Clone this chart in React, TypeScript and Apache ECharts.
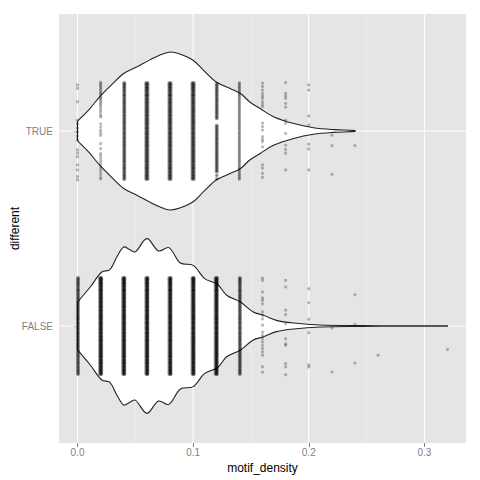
import React, { useEffect, useRef } from 'react';
import * as echarts from 'echarts';

// Category positions on the y scale: FALSE = 1, TRUE = 2
const Y_CATEGORIES = ['FALSE', 'TRUE'];
const X_TICKS = [0, 0.1, 0.2, 0.3];
const X_MINOR = [0.05, 0.15, 0.25];

// Violin outlines: x values and half widths (in y units)
const TRUE_VX = [0, 0.010, 0.019, 0.030, 0.040, 0.051, 0.063, 0.071, 0.080, 0.089, 0.100, 0.109, 0.120, 0.132, 0.141, 0.149, 0.158, 0.170, 0.187, 0.204, 0.222, 0.240];
const TRUE_VW = [0.051, 0.11, 0.174, 0.24, 0.295, 0.328, 0.366, 0.388, 0.405, 0.394, 0.363, 0.311, 0.251, 0.218, 0.192, 0.149, 0.115, 0.072, 0.038, 0.017, 0.007, 0.002];
const FALSE_VX = [0, 0.011, 0.021, 0.028, 0.034, 0.040, 0.045, 0.050, 0.060, 0.070, 0.079, 0.089, 0.100, 0.110, 0.121, 0.129, 0.141, 0.152, 0.161, 0.172, 0.187, 0.210, 0.245, 0.28, 0.32];
const FALSE_VW = [0.123, 0.200, 0.277, 0.289, 0.354, 0.405, 0.392, 0.380, 0.448, 0.385, 0.402, 0.323, 0.311, 0.243, 0.214, 0.158, 0.123, 0.072, 0.055, 0.029, 0.015, 0.005, 0.002, 0.001, 0.0005];

// Jittered point offsets (y units around the category)
const DENSE = [0.248, 0.241, 0.236, 0.229, 0.222, 0.217, 0.209, 0.203, 0.196, 0.188, 0.183, 0.176, 0.168, 0.161, 0.155, 0.147, 0.141, 0.133, 0.126, 0.119, 0.112, 0.104, 0.098, 0.091, 0.083, 0.077, 0.069, 0.062, 0.055, 0.048, 0.041, 0.034, 0.027, 0.019, 0.013, 0.006, -0.002, -0.009, -0.016, -0.023, -0.031, -0.037, -0.044, -0.052, -0.058, -0.066, -0.073, -0.079, -0.087, -0.094, -0.101, -0.108, -0.115, -0.122, -0.129, -0.137, -0.143, -0.151, -0.157, -0.164, -0.172, -0.178, -0.186, -0.192, -0.199, -0.207, -0.213, -0.221, -0.227, -0.234, -0.242, -0.248];
const DENSE_GAP = [0.243, 0.236, 0.229, 0.221, 0.214, 0.207, 0.199, 0.192, 0.184, 0.177, 0.169, 0.162, 0.154, 0.147, 0.139, 0.131, 0.124, 0.116, 0.109, 0.101, 0.094, 0.086, 0.078, 0.071, 0.063, 0.029, 0.022, 0.014, 0.007, -0.001, -0.008, -0.016, -0.023, -0.031, -0.038, -0.046, -0.053, -0.061, -0.068, -0.076, -0.083, -0.091, -0.098, -0.106, -0.113, -0.121, -0.128, -0.136, -0.143, -0.151, -0.158, -0.166, -0.173, -0.181, -0.188, -0.196, -0.203, -0.210, -0.227, -0.245];
const T00 = [0.236, 0.219, 0.150, 0.056, 0.036, 0.015, -0.005, -0.026, -0.046, -0.097, -0.113, -0.132, -0.174, -0.200, -0.234, -0.251];
const T02 = [0.250, 0.243, 0.236, 0.229, 0.221, 0.214, 0.205, 0.197, 0.190, 0.181, 0.173, 0.166, 0.157, 0.148, 0.139, 0.130, 0.118, 0.106, 0.094, 0.080, 0.072, 0.036, 0.020, 0.003, -0.010, -0.022, -0.065, -0.090, -0.116, -0.128, -0.142, -0.156, -0.170, -0.183, -0.196, -0.209, -0.222, -0.236, -0.246];
const T16 = [0.245, 0.227, 0.210, 0.193, 0.180, 0.168, 0.150, 0.137, 0.125, 0.040, 0.022, 0.005, -0.029, -0.043, -0.055, -0.081, -0.174, -0.191, -0.217, -0.238];
const T18 = [0.248, 0.193, 0.180, 0.168, 0.142, 0.122, 0.056, 0.040, -0.012, -0.072, -0.094, -0.114, -0.200];
const T20 = [0.236, 0.210, 0.077, 0.031, -0.067, -0.092, -0.200];
const T22 = [-0.021, -0.075, -0.222];
const T24 = [-0.075];
const F16 = [0.246, 0.234, 0.174, 0.144, 0.132, 0.114, 0.072, 0.055, 0.037, 0.004, -0.031, -0.048, -0.065, -0.082, -0.099, -0.116, -0.133, -0.150, -0.210, -0.236];
const F18 = [0.234, 0.200, 0.081, 0.058, 0.012, -0.065, -0.091, -0.099, -0.193, -0.210, -0.250];
const F20 = [0.191, 0.120, 0.034, -0.034, -0.199, -0.210];
const F22 = [-0.010, -0.236];
const F24 = [0.161, 0.007, -0.190];
const F26 = [-0.150];
const F32 = [-0.120];

const TRUE_COL_X = [0, 0.02, 0.04, 0.06, 0.08, 0.10, 0.12, 0.14, 0.16, 0.18, 0.20, 0.22, 0.24];
const TRUE_COL_OFFSETS = [T00, T02, DENSE, DENSE, DENSE, DENSE, DENSE_GAP, DENSE, T16, T18, T20, T22, T24];
const TRUE_COL_REPS = [1, 1, 2, 3, 3, 3, 2, 1, 1, 1, 1, 1, 1];
const FALSE_COL_X = [0, 0.02, 0.04, 0.06, 0.08, 0.10, 0.12, 0.14, 0.16, 0.18, 0.20, 0.22, 0.24, 0.26, 0.32];
const FALSE_COL_OFFSETS = [DENSE, DENSE, DENSE, DENSE, DENSE, DENSE, DENSE, DENSE, F16, F18, F20, F22, F24, F26, F32];
const FALSE_COL_REPS = [2, 4, 4, 4, 4, 4, 4, 2, 1, 1, 1, 1, 1, 1, 1];
const JIT_X = [0, 0.0009, -0.0009, 0.00045];

function buildPoints(colX: number[], offs: number[][], reps: number[], center: number) {
  const out: number[][] = [];
  colX.forEach((x, i) => {
    for (let r = 0; r < reps[i]; r++) {
      offs[i].forEach((o) => out.push([x + JIT_X[r], center + o]));
    }
  });
  return out;
}

export default function App() {
  const ref = useRef<HTMLDivElement>(null);
  useEffect(() => {
    if (!ref.current) return;
    const chart = echarts.init(ref.current, undefined, { renderer: 'svg' });
    const violins = [
      { vx: FALSE_VX, vw: FALSE_VW },
      { vx: TRUE_VX, vw: TRUE_VW },
    ];
    const points = [
      ...buildPoints(FALSE_COL_X, FALSE_COL_OFFSETS, FALSE_COL_REPS, 1),
      ...buildPoints(TRUE_COL_X, TRUE_COL_OFFSETS, TRUE_COL_REPS, 2),
    ];
    const font = '"Liberation Sans", Arial, Helvetica, sans-serif';
    chart.setOption({
      animation: false,
      backgroundColor: '#ffffff',
      textStyle: { fontFamily: font },
      grid: {
        left: 59, right: 14, top: 14, bottom: 37,
        containLabel: false, outerBoundsMode: 'none',
        show: true, backgroundColor: '#E5E5E5', borderWidth: 0,
      },
      xAxis: {
        type: 'value', min: -0.016, max: 0.336,
        name: 'motif_density', nameLocation: 'middle', nameGap: 17,
        nameTextStyle: { color: '#000', fontSize: 12, fontFamily: font },
        axisLine: { show: false },
        axisTick: { show: true, customValues: X_TICKS, length: 4, lineStyle: { color: '#7F7F7F', width: 1 } },
        axisLabel: { customValues: X_TICKS, formatter: (v: number) => v.toFixed(1), color: '#7F7F7F', fontSize: 10, margin: 4, fontFamily: font },
        splitLine: { show: false },
      },
      yAxis: {
        type: 'value', min: 0.4, max: 2.6,
        name: 'different', nameLocation: 'middle', nameGap: 38, nameRotate: 90,
        nameMoveOverlap: false,
        nameTextStyle: { color: '#000', fontSize: 12, fontFamily: font },
        axisLine: { show: false },
        axisTick: { show: true, customValues: [1, 2], length: 4, lineStyle: { color: '#7F7F7F', width: 1 } },
        axisLabel: { customValues: [1, 2], formatter: (v: number) => Y_CATEGORIES[Math.round(v) - 1], color: '#7F7F7F', fontSize: 10, margin: 6, fontFamily: font },
        splitLine: { show: false },
      },
      series: [
        {
          type: 'custom', name: 'grid', silent: true, z: 1,
          data: [[0, 1]],
          renderItem: (params: any, api: any) => {
            const children: any[] = [];
            const y0 = 0.4, y1 = 2.6, x0 = -0.016, x1 = 0.336;
            X_MINOR.forEach((x) => {
              const a = api.coord([x, y0]); const b = api.coord([x, y1]);
              children.push({ type: 'line', shape: { x1: a[0], y1: a[1], x2: b[0], y2: b[1] }, style: { stroke: '#F2F2F2', lineWidth: 0.6 } });
            });
            X_TICKS.forEach((x) => {
              const a = api.coord([x, y0]); const b = api.coord([x, y1]);
              children.push({ type: 'line', shape: { x1: a[0], y1: a[1], x2: b[0], y2: b[1] }, style: { stroke: '#FFFFFF', lineWidth: 1.1 } });
            });
            [1, 2].forEach((y) => {
              const a = api.coord([x0, y]); const b = api.coord([x1, y]);
              children.push({ type: 'line', shape: { x1: a[0], y1: a[1], x2: b[0], y2: b[1] }, style: { stroke: '#FFFFFF', lineWidth: 1.1 } });
            });
            return { type: 'group', children };
          },
        },
        {
          type: 'custom', name: 'violin', silent: true, z: 2,
          data: [[0, 1], [0, 2]],
          renderItem: (params: any, api: any) => {
            const v = violins[params.dataIndex];
            const c = api.value(1);
            const upper = v.vx.map((x, i) => api.coord([x, c + v.vw[i]]));
            const lower = v.vx.map((x, i) => api.coord([x, c - v.vw[i]])).reverse();
            const pts = upper.concat(lower);
            const a = api.coord([v.vx[0], c + v.vw[0]]);
            const b = api.coord([v.vx[0], c - v.vw[0]]);
            return {
              type: 'group',
              children: [
                { type: 'polyline', shape: { points: pts, smooth: 0.35 }, style: { fill: '#FFFFFF', stroke: '#222222', lineWidth: 1.1 } },
                { type: 'line', shape: { x1: a[0], y1: a[1], x2: b[0], y2: b[1] }, style: { stroke: '#222222', lineWidth: 1.1 } },
              ],
            };
          },
        },
        {
          type: 'scatter', name: 'points', silent: true, z: 3,
          symbol: 'circle', symbolSize: 3.2,
          itemStyle: { color: '#000000', opacity: 0.27 },
          data: points,
        },
      ],
    });
    return () => chart.dispose();
  }, []);
  return <div ref={ref} style={{ position: 'fixed', left: 0, top: 0, width: 480, height: 480 }} />;
}
